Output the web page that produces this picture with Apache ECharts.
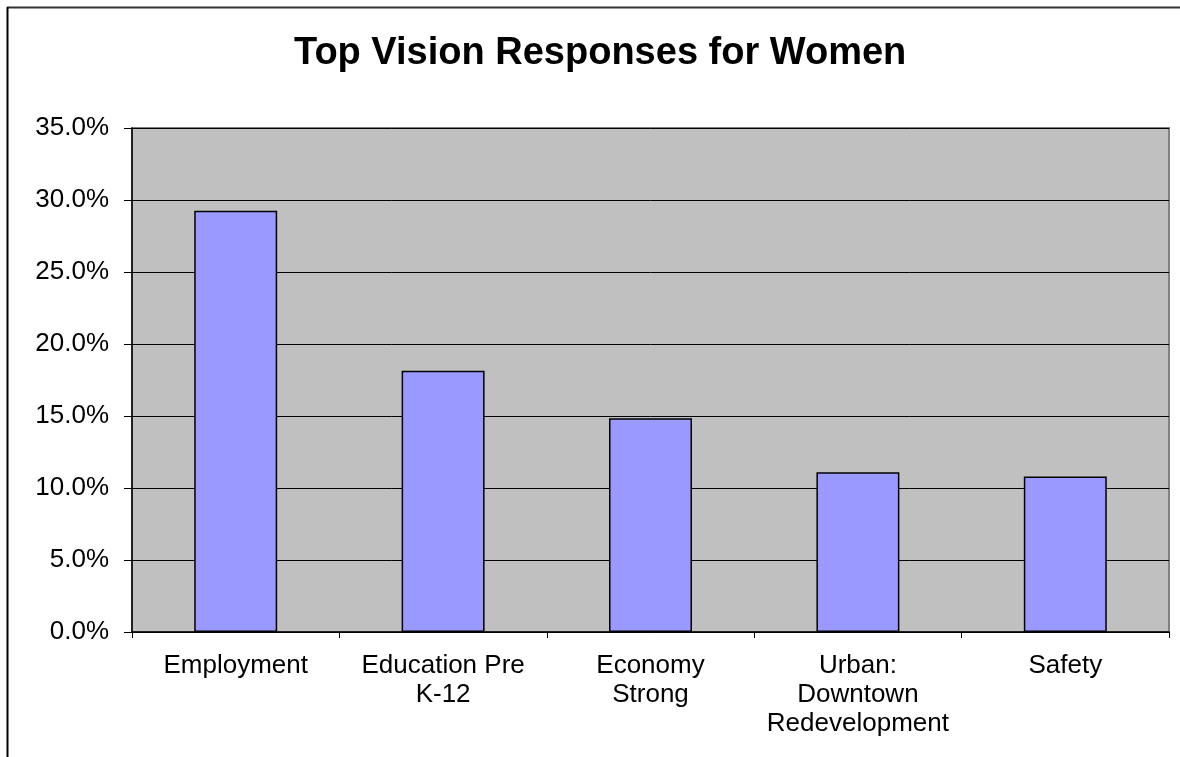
<!DOCTYPE html>
<html>
<head>
<meta charset="utf-8">
<script src="https://cdn.jsdelivr.net/npm/echarts@6/dist/echarts.min.js"></script>
<style>
html,body{margin:0;padding:0;background:#fff;}
#chart{width:1180px;height:757px;}
</style>
</head>
<body>
<div id="chart"></div>
<script>
const titleText = 'Top Vision Responses for Women';
const categories = ['Employment', 'Education Pre\nK-12', 'Economy\nStrong', 'Urban:\nDowntown\nRedevelopment', 'Safety'];
const values = [29.25, 18.15, 14.85, 11.1, 10.8];
const yMin = 0, yMax = 35, yStep = 5;

const chart = echarts.init(document.getElementById('chart'), null, {renderer: 'canvas'});
chart.setOption({
  backgroundColor: '#ffffff',
  animation: false,
  title: {
    text: titleText,
    left: 289,
    top: 30,
    textStyle: {fontFamily: 'Liberation Sans', fontWeight: 'bold', fontSize: 38, color: '#000'}
  },
  graphic: [
    {type: 'line', shape: {x1: 7, y1: 7.5, x2: 1180, y2: 7.5}, style: {stroke: '#333', lineWidth: 2}},
    {type: 'line', shape: {x1: 7.5, y1: 7, x2: 7.5, y2: 757}, style: {stroke: '#000', lineWidth: 2}}
  ],
  grid: {
    left: 132, right: 11, top: 128, bottom: 125,
    show: true, backgroundColor: '#C0C0C0', borderColor: '#808080', borderWidth: 2
  },
  xAxis: {
    type: 'category',
    data: categories,
    axisLine: {show: true, lineStyle: {color: '#000', width: 1.5}},
    axisTick: {show: true, length: 6, lineStyle: {color: '#000'}},
    axisLabel: {fontFamily: 'Liberation Sans', fontSize: 26, color: '#000', margin: 19, lineHeight: 29, interval: 0}
  },
  yAxis: {
    type: 'value',
    min: yMin, max: yMax, interval: yStep,
    axisLine: {show: true, lineStyle: {color: '#000', width: 1.5}},
    axisTick: {show: true, length: 8, lineStyle: {color: '#000'}},
    splitLine: {show: true, lineStyle: {color: '#000', width: 1}},
    axisLabel: {fontFamily: 'Liberation Sans', fontSize: 26, color: '#000', margin: 23,
      formatter: v => v.toFixed(1) + '%'}
  },
  series: [{
    type: 'bar',
    data: values,
    barWidth: '40%',
    itemStyle: {color: '#9999FF', borderColor: '#000', borderWidth: 1.5}
  }]
});
</script>
</body>
</html>
